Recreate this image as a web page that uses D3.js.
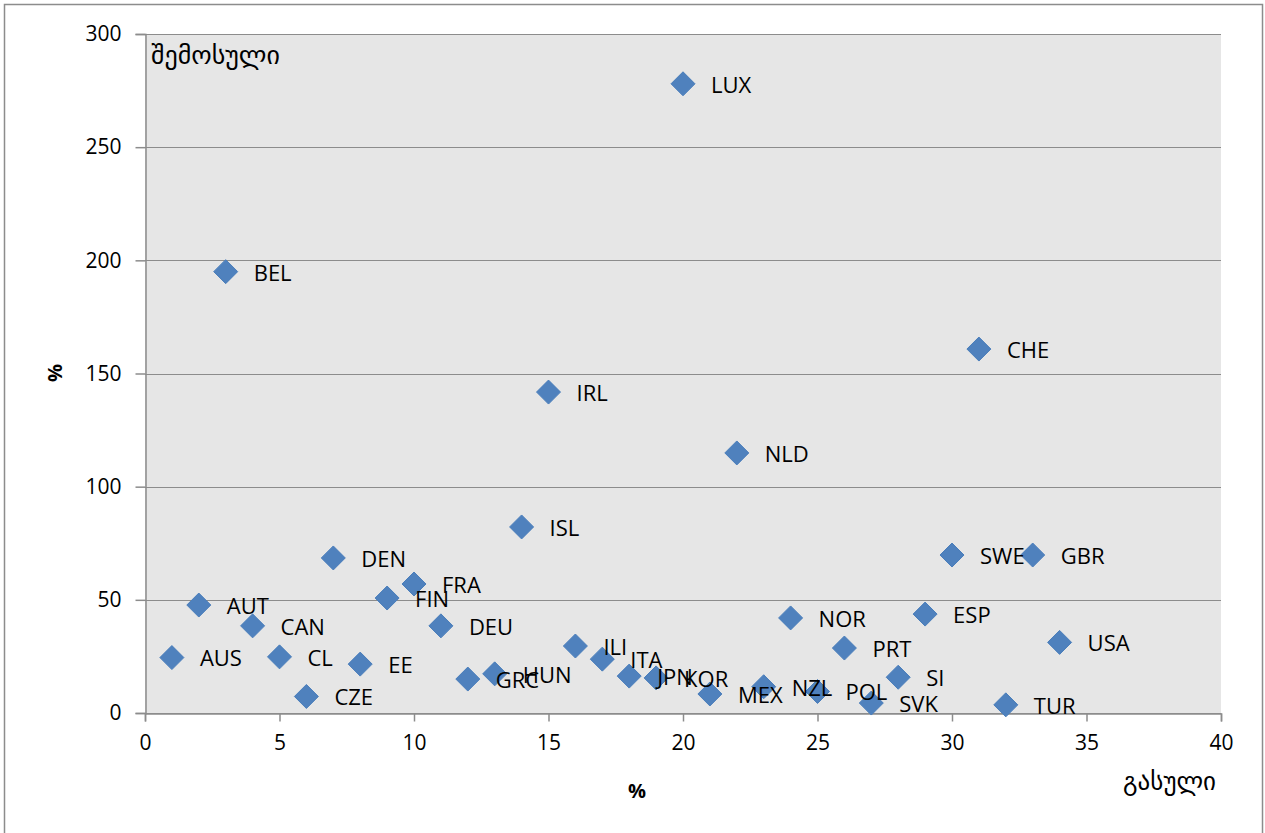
<!DOCTYPE html>
<html><head><meta charset="utf-8">
<script src="https://cdnjs.cloudflare.com/ajax/libs/d3/7.8.5/d3.min.js"></script>
<style>
body{margin:0;background:#fff;}
svg{display:block;}
text{font-family:"Open Sans","Noto Sans",sans-serif;fill:#000;}
.geo{font-family:"DejaVu Sans",sans-serif;}
</style></head><body>
<svg id="chart" width="1265" height="833"></svg>
<script>
const countries = ["AUS","AUT","BEL","CAN","CL","CZE","DEN","EE","FIN","FRA","DEU","GRC","HUN","ISL","IRL","ILI","ITA","JPN","KOR","LUX","MEX","NLD","NZL","NOR","POL","PRT","SVK","SI","ESP","SWE","CHE","TUR","GBR","USA"];
const outgoing = [1,2,3,4,5,6,7,8,9,10,11,12,13,14,15,16,17,18,19,20,21,22,23,24,25,26,27,28,29,30,31,32,33,34];
const incoming = [24.5,47.7,195,38.5,24.8,7.3,68.5,21.6,50.8,57,38.5,15,17.3,82.2,141.8,29.6,23.8,16.3,15.5,278,8.4,114.9,11.6,42,9.5,28.7,4.4,15.8,43.7,69.8,160.8,3.6,69.8,31.2];
const xTicks = [0,5,10,15,20,25,30,35,40];
const yTicks = [0,50,100,150,200,250,300];

(function(){
const svg = d3.select("#chart");
const pl=145, pr=1221, pt=34, pb=713;
const x = d3.scaleLinear().domain([0,40]).range([pl,pr]);
const y = d3.scaleLinear().domain([0,300]).range([pb,pt]);

svg.append("rect").attr("x",4.5).attr("y",4.5).attr("width",1258).attr("height",840)
  .attr("fill","#fff").attr("stroke","#8c8c8c").attr("stroke-width",1.5);
svg.append("rect").attr("x",pl).attr("y",pt).attr("width",pr-pl).attr("height",pb-pt)
  .attr("fill","#e6e6e6");
svg.append("g").selectAll("line").data(yTicks).join("line")
  .attr("x1",pl).attr("x2",pr).attr("y1",d=>Math.round(y(d))+0.5).attr("y2",d=>Math.round(y(d))+0.5)
  .attr("stroke","#8c8c8c").attr("stroke-width",1);

const yAxis = d3.axisLeft(y).tickValues(yTicks).tickSize(10).tickPadding(14);
const gy = svg.append("g").attr("transform",`translate(${pl+0.5},0)`).call(yAxis);
const xAxis = d3.axisBottom(x).tickValues(xTicks).tickSize(8).tickPadding(14);
const gx = svg.append("g").attr("transform",`translate(0,${pb+0.5})`).call(xAxis);
[gx,gy].forEach(g=>{
  g.selectAll("path,line").attr("stroke","#8c8c8c").attr("stroke-width",1.5);
  g.selectAll("text").attr("font-size",21).attr("font-family","Open Sans").attr("fill","#000");
});

const data = countries.map((c,i)=>({c, x:outgoing[i], y:incoming[i]}));
const r = 12;
svg.append("g").selectAll("path").data(data).join("path")
  .attr("d",d=>{const cx=x(d.x), cy=y(d.y); return `M${cx},${cy-r}L${cx+r},${cy}L${cx},${cy+r}L${cx-r},${cy}Z`;})
  .attr("fill","#4f81bd").attr("stroke","#4a7ebb").attr("stroke-width",1);

svg.append("g").selectAll("text").data(data).join("text")
  .attr("x",d=>x(d.x)+28).attr("y",d=>y(d.y)+1).attr("dy","0.36em")
  .attr("font-size",22).text(d=>d.c);

svg.append("text").attr("transform","translate(62,373) rotate(-90)").attr("text-anchor","middle")
  .attr("font-size",20).attr("font-weight","bold").text("%");
svg.append("text").attr("x",637).attr("y",798).attr("text-anchor","middle")
  .attr("font-size",20).attr("font-weight","bold").text("%");
svg.append("text").attr("class","geo").attr("x",1216).attr("y",790).attr("text-anchor","end")
  .attr("font-size",25).text("გასული");
svg.append("text").attr("class","geo").attr("x",151).attr("y",64)
  .attr("font-size",26).text("შემოსული");
})();
</script></body></html>
